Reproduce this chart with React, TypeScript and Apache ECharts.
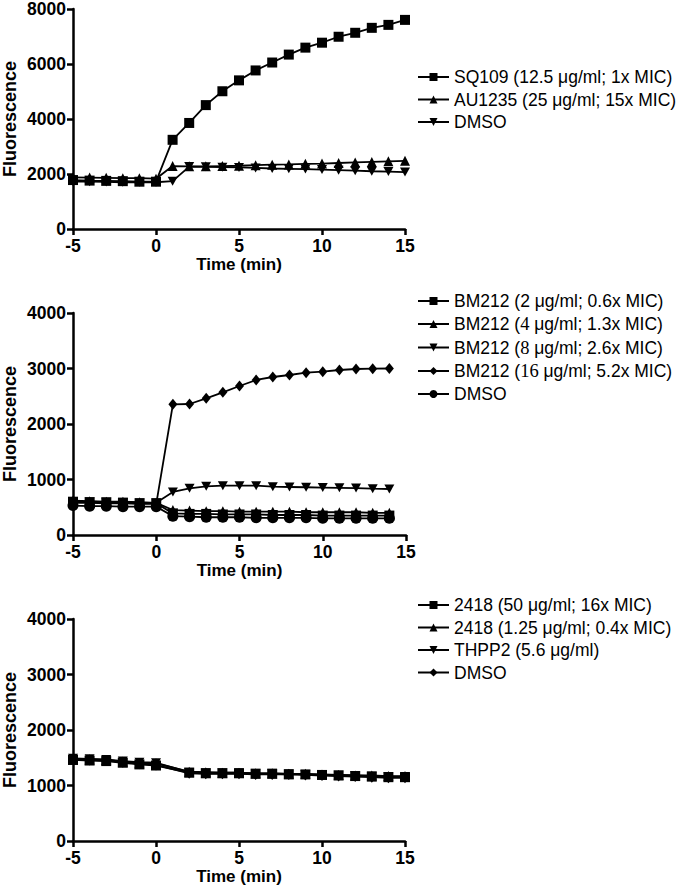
import React, { useEffect, useRef } from "react";
import * as echarts from "echarts";

const timeTop = [-5, -4, -3, -2, -1, 0, 1, 2, 3, 4, 5, 6, 7, 8, 9, 10, 11, 12, 13, 14, 15];
const sq109 = [1780, 1760, 1750, 1740, 1720, 1720, 3243, 3856, 4505, 5009, 5405, 5766, 6054, 6342, 6595, 6775, 6991, 7135, 7315, 7423, 7604];
const au1235 = [1880, 1870, 1860, 1850, 1850, 1830, 2290, 2280, 2280, 2290, 2300, 2320, 2340, 2350, 2370, 2380, 2400, 2420, 2440, 2460, 2480];
const dmsoTop = [1720, 1720, 1710, 1700, 1700, 1700, 1740, 2270, 2260, 2250, 2240, 2220, 2200, 2190, 2180, 2160, 2140, 2120, 2100, 2090, 2070];

const timeMid = [-5, -4, -3, -2, -1, 0, 1, 2, 3, 4, 5, 6, 7, 8, 9, 10, 11, 12, 13, 14];
const bm2 = [600, 590, 590, 580, 570, 570, 390, 380, 380, 370, 370, 370, 360, 360, 360, 350, 350, 350, 350, 350];
const bm4 = [620, 610, 600, 600, 590, 580, 450, 440, 430, 430, 420, 420, 420, 420, 410, 410, 410, 410, 400, 400];
const bm8 = [600, 600, 590, 590, 580, 580, 775, 841, 877, 889, 889, 889, 871, 865, 860, 855, 850, 845, 835, 829];
const bm16 = [580, 580, 570, 570, 560, 560, 2354, 2360, 2462, 2570, 2685, 2793, 2847, 2883, 2925, 2943, 2973, 2991, 2997, 3000];
const dmsoMid = [530, 520, 520, 510, 510, 510, 340, 330, 320, 320, 320, 310, 310, 310, 310, 300, 300, 300, 300, 300];

const timeBot = [-5, -4, -3, -2, -1, 0, 2, 3, 4, 5, 6, 7, 8, 9, 10, 11, 12, 13, 14, 15];
const c2418hi = [1460, 1450, 1440, 1410, 1380, 1360, 1230, 1220, 1220, 1220, 1210, 1210, 1200, 1200, 1190, 1180, 1170, 1160, 1150, 1150];
const c2418lo = [1480, 1470, 1460, 1430, 1400, 1400, 1250, 1240, 1230, 1230, 1220, 1220, 1210, 1210, 1200, 1190, 1180, 1180, 1170, 1170];
const thpp2 = [1490, 1480, 1470, 1440, 1420, 1410, 1240, 1230, 1230, 1230, 1220, 1220, 1210, 1200, 1190, 1190, 1180, 1170, 1160, 1160];
const dmsoBot = [1470, 1460, 1450, 1420, 1390, 1370, 1220, 1210, 1210, 1210, 1200, 1200, 1200, 1190, 1180, 1170, 1160, 1150, 1140, 1140];

const xTicks = [-5, 0, 5, 10, 15];

const FONT = "'Liberation Sans', Arial, sans-serif";
const SERIF = "'Liberation Serif', 'Times New Roman', serif";
const INV_TRI = "path://M0,0 L10,0 L5,9 Z";
const DIAMOND = "path://M5,0 L10,6 L5,12 L0,6 Z";

const App: React.FC = () => {
  const ref = useRef<HTMLDivElement>(null);

  useEffect(() => {
    if (!ref.current) return;
    const chart = echarts.init(ref.current, undefined, { renderer: "svg" });

    const pairs = (t: number[], v: number[]) => t.map((x, i) => [x, v[i]]);

    const grids = [
      { left: 69, top: 7, width: 336, height: 222 },
      { left: 70, top: 313, width: 336, height: 222 },
      { left: 72, top: 619, width: 333, height: 222 },
    ];
    const yMax = [8000, 4000, 4000];
    const yInt = [2000, 1000, 1000];

    const axisLine = { show: true, onZero: false, lineStyle: { color: "#000", width: 2.5 } };
    const axisTick = { show: true, inside: false, length: 6, lineStyle: { color: "#000", width: 2.5 } };
    const labelStyle = { color: "#000", fontWeight: "bold" as const, fontSize: 17.5, fontFamily: FONT };
    const nameStyle = { color: "#000", fontWeight: "bold" as const, fontSize: 18, fontFamily: FONT };

    const xAxis = grids.map((_, i) => ({
      type: "value",
      gridIndex: i,
      min: -5,
      max: 15,
      interval: 5,
      name: "Time (min)",
      nameLocation: "middle",
      nameGap: 26,
      nameTextStyle: { ...nameStyle, fontSize: 17 },
      axisLine,
      axisTick,
      splitLine: { show: false },
      axisLabel: { ...labelStyle, margin: 8, formatter: (v: number) => (xTicks.includes(v) ? String(v) : "") },
    }));

    const yAxis = grids.map((_, i) => ({
      type: "value",
      gridIndex: i,
      min: 0,
      max: yMax[i],
      interval: yInt[i],
      name: "Fluorescence",
      nameLocation: "middle",
      nameGap: 54,
      nameTextStyle: nameStyle,
      axisLine,
      axisTick,
      splitLine: { show: false },
      axisLabel: { ...labelStyle, margin: 7, formatter: (v: number) => String(v) },
    }));

    const mk = (
      name: string,
      idx: number,
      t: number[],
      v: number[],
      symbol: string,
      size: number | number[]
    ) => ({
      name,
      type: "line",
      xAxisIndex: idx,
      yAxisIndex: idx,
      data: pairs(t, v),
      symbol,
      symbolSize: size,
      showSymbol: true,
      lineStyle: { color: "#000", width: 1.8 },
      itemStyle: { color: "#000", borderWidth: 0 },
      emphasis: { disabled: true },
    });

    const nTop = ["SQ109 (12.5 μg/ml; 1x MIC)", "AU1235 (25 μg/ml; 15x MIC)", "DMSO "];
    const nMid = [
      "BM212 (2 μg/ml; 0.6x MIC)",
      "BM212 (4 μg/ml; 1.3x MIC)",
      "BM212 (8 μg/ml; 2.6x MIC)",
      "BM212 (16 μg/ml; 5.2x MIC)",
      "DMSO  ",
    ];
    const nBot = ["2418 (50 μg/ml; 16x MIC)", "2418 (1.25 μg/ml; 0.4x MIC)", "THPP2 (5.6 μg/ml)", "DMSO   "];

    const series = [
      mk(nTop[0], 0, timeTop, sq109, "rect", 10),
      mk(nTop[1], 0, timeTop, au1235, "triangle", 10),
      mk(nTop[2], 0, timeTop, dmsoTop, INV_TRI, [10, 9]),
      mk(nMid[0], 1, timeMid, bm2, "rect", 10),
      mk(nMid[1], 1, timeMid, bm4, "triangle", 10),
      mk(nMid[2], 1, timeMid, bm8, INV_TRI, [10, 9]),
      mk(nMid[3], 1, timeMid, bm16, DIAMOND, [9, 11]),
      mk(nMid[4], 1, timeMid, dmsoMid, "circle", 11),
      mk(nBot[0], 2, timeBot, c2418hi, "rect", 10),
      mk(nBot[1], 2, timeBot, c2418lo, "triangle", 10),
      mk(nBot[2], 2, timeBot, thpp2, INV_TRI, [10, 9]),
      mk(nBot[3], 2, timeBot, dmsoBot, DIAMOND, [9, 11]),
    ];

    const serifDigits: Record<string, string> = {
      "BM212 (4 μg/ml; 1.3x MIC)": "BM212 ({s|4} μg/ml; 1.3x MIC)",
      "BM212 (8 μg/ml; 2.6x MIC)": "BM212 ({s|8} μg/ml; 2.6x MIC)",
      "BM212 (16 μg/ml; 5.2x MIC)": "BM212 ({s|16} μg/ml; 5.2x MIC)",
    };

    const legendBase = (data: string[], top: number) => ({
      data,
      orient: "vertical",
      left: 412,
      top,
      itemWidth: 31,
      itemHeight: 10,
      itemGap: 4.5,
      selectedMode: false,
      formatter: (n: string) => serifDigits[n] || n,
      textStyle: {
        color: "#000",
        fontSize: 17.5,
        lineHeight: 18,
        fontFamily: FONT,
        rich: { s: { fontFamily: SERIF, fontSize: 18.5, color: "#000", lineHeight: 18 } },
      },
    });

    chart.setOption({
      animation: false,
      backgroundColor: "#fff",
      grid: grids,
      xAxis,
      yAxis,
      legend: [legendBase(nTop, 63), legendBase(nMid, 287), legendBase(nBot, 591)],
      series,
    });

    return () => chart.dispose();
  }, []);

  return (
    <div
      ref={ref}
      style={{ position: "fixed", left: 0, top: 0, width: 680, height: 895, background: "#fff" }}
    />
  );
};

export default App;
